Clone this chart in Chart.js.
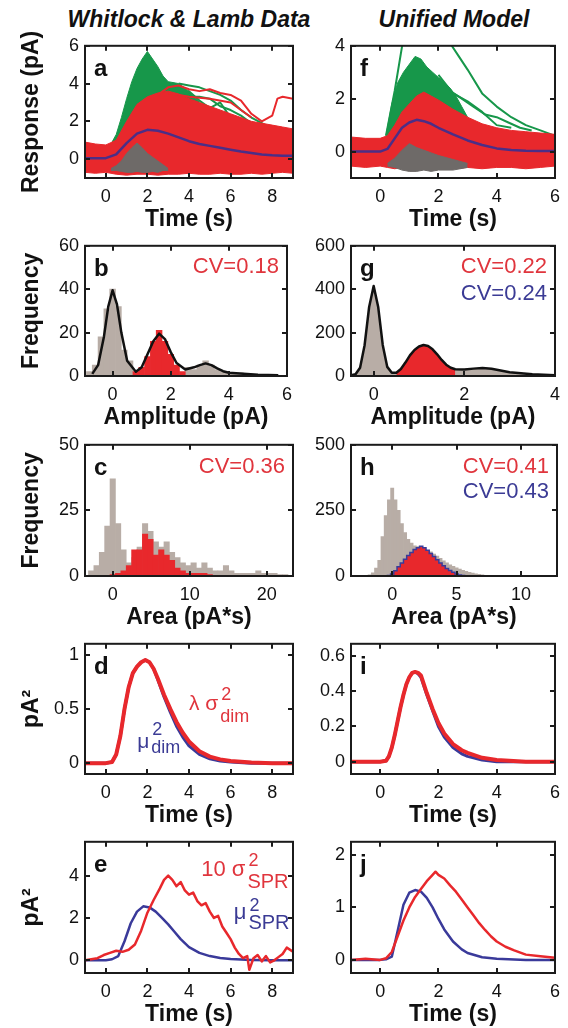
<!DOCTYPE html>
<html>
<head>
<meta charset="utf-8">
<script src="https://cdn.jsdelivr.net/npm/chart.js@4"></script>
<style>
  body { margin: 0; background: #fff; }
  #fig { position: relative; width: 568px; height: 1028px; overflow: hidden; }
  .col-title { position: absolute; top: 8px; width: 300px; text-align: center; white-space: nowrap;
    font: italic bold 23px "Liberation Sans", Arial, sans-serif; line-height: 23px; color: #111; }
  canvas { position: absolute; }
</style>
</head>
<body>
<div id="fig">
  <div class="col-title" style="left:39px">Whitlock &amp; Lamb Data</div>
  <div class="col-title" style="left:304px">Unified Model</div>
</div>
<script>
// ---- panel a : responses, Whitlock & Lamb data ----
let aT = [-1, -0.5, 0, 0.5, 1, 1.5, 2, 2.5, 3, 3.5, 4, 4.5, 5, 5.5, 6, 6.5, 7, 7.5, 8, 8.5, 9];
let aRedHi = [0.9, 0.8, 0.75, 1.0, 2.0, 2.9, 3.3, 3.5, 3.6, 3.45, 3.2, 3.0, 2.8, 2.6, 2.4, 2.2, 2.0, 1.9, 1.8, 1.7, 1.6];
let aRedLo = [-0.7, -0.75, -0.7, -0.8, -0.85, -0.8, -0.8, -0.85, -0.8, -0.8, -0.75, -0.8, -0.8, -0.75, -0.8, -0.8, -0.75, -0.8, -0.75, -0.7, -0.75];
let aMean = [0.05, 0.05, 0.05, 0.25, 0.85, 1.35, 1.55, 1.5, 1.35, 1.15, 0.95, 0.8, 0.7, 0.6, 0.5, 0.4, 0.32, 0.25, 0.2, 0.18, 0.18];
let aGreenT = [0.3, 0.5, 0.75, 1, 1.25, 1.5, 1.75, 2, 2.25, 2.5, 2.75, 3, 3.5, 4, 4.5];
let aGreenHi = [0.9, 1.3, 2.2, 3.2, 4.1, 4.8, 5.3, 5.7, 5.3, 4.9, 4.4, 4.1, 4.0, 3.6, 3.0];
let aG1T = [3.5, 4, 4.5, 5, 5.5, 6, 6.5, 7, 7.5, 8];
let aG1Y = [4.0, 3.9, 3.8, 3.6, 3.4, 3.1, 2.6, 2.2, 1.9, 1.6];
let aG2T = [3, 3.5, 4, 4.5, 5, 5.5, 6, 6.5, 7, 7.5, 8];
let aG2Y = [3.6, 3.4, 3.3, 3.3, 3.2, 2.8, 2.6, 2.3, 1.9, 1.6, 1.4];
let aG3T = [3.5, 4, 4.5, 5, 5.5, 6, 6.5, 7];
let aG3Y = [3.0, 3.6, 3.1, 2.7, 3.0, 2.2, 2.0, 1.6];
let aR1T = [2.5, 3, 3.5, 4, 4.5, 5, 5.5, 6, 6.5, 7, 7.5, 8, 8.25, 8.5, 9];
let aR1Y = [3.4, 3.8, 3.9, 3.7, 3.6, 3.7, 3.5, 3.4, 3.1, 2.4, 2.0, 2.3, 3.2, 3.3, 3.2];
let aR2T = [3, 4, 5, 6, 6.5, 7];
let aR2Y = [3.5, 3.3, 3.2, 3.0, 2.6, 2.2];
let aGrayT = [0.25, 0.5, 0.75, 1, 1.25, 1.5, 1.75, 2, 2.25, 2.5, 2.75, 3];
let aGrayHi = [-0.5, -0.35, -0.1, 0.3, 0.6, 0.85, 0.6, 0.3, 0.1, -0.1, -0.3, -0.5];
let aGrayLo = [-0.6, -0.6, -0.65, -0.7, -0.7, -0.65, -0.7, -0.7, -0.65, -0.7, -0.6, -0.6];

// ---- panel f : responses, unified model ----
let fT = [-1, -0.5, 0, 0.25, 0.5, 0.75, 1, 1.25, 1.5, 1.75, 2, 2.5, 3, 3.5, 4, 4.5, 5, 5.5, 6];
let fRedHi = [0.55, 0.5, 0.5, 0.6, 1.0, 1.5, 1.8, 2.1, 2.25, 2.1, 1.95, 1.6, 1.3, 1.05, 0.9, 0.8, 0.75, 0.7, 0.65];
let fRedLo = [-0.55, -0.6, -0.55, -0.6, -0.65, -0.6, -0.65, -0.7, -0.65, -0.7, -0.6, -0.65, -0.6, -0.65, -0.6, -0.6, -0.65, -0.6, -0.55];
let fMean = [0, 0, 0, 0.1, 0.5, 0.9, 1.1, 1.2, 1.15, 1.05, 0.9, 0.65, 0.42, 0.25, 0.12, 0.06, 0.03, 0.02, 0.02];
let fGreenT = [0.2, 0.4, 0.6, 0.8, 1, 1.2, 1.4, 1.6, 1.8, 2, 2.2, 2.4, 2.6, 2.8, 3.0];
let fGreenHi = [0.6, 1.8, 2.6, 3.0, 3.3, 3.6, 3.5, 3.2, 3.0, 2.8, 2.6, 2.4, 2.1, 1.7, 1.3];
let fG1T = [0.2, 0.5, 0.8, 1.1, 1.6, 2.1, 2.4, 2.7, 3, 3.5, 4, 4.5, 5, 5.5, 6];
let fG1Y = [0.6, 2.3, 4.3, 5.5, 5.8, 5.0, 4.1, 3.6, 3.1, 2.2, 1.7, 1.3, 1.0, 0.8, 0.6];
let fG2T = [2.4, 2.8, 3.2, 3.6, 4, 4.4, 4.8, 5.2];
let fG2Y = [2.3, 2.0, 1.7, 1.4, 1.3, 1.1, 0.9, 0.8];
let fG3T = [2, 2.5, 3, 3.5, 4, 4.5];
let fG3Y = [2.9, 2.2, 1.9, 1.5, 1.0, 0.9];
let fGrayT = [0.25, 0.5, 0.75, 1, 1.25, 1.5, 1.75, 2, 2.5, 3];
let fGrayHi = [-0.45, -0.25, 0.05, 0.3, 0.15, 0.05, -0.05, -0.15, -0.3, -0.45];
let fGrayLo = [-0.55, -0.6, -0.7, -0.75, -0.75, -0.7, -0.75, -0.7, -0.7, -0.6];

// ---- panel b : amplitude histogram, data ----
let bBins = [-0.8, -0.6, -0.4, -0.2, 0, 0.2, 0.4, 0.6, 0.8, 1.0, 1.2, 1.4, 1.6, 1.8, 2.0, 2.2, 2.4, 2.6, 2.8, 3.0, 3.2, 3.4, 3.6, 3.8, 4.0, 4.2, 4.4, 4.6, 4.8, 5.0];
let bGray = [2, 5, 18, 31, 40, 32, 12, 7, 0, 0, 0, 0, 0, 0, 0, 0, 0, 4, 3, 5, 7, 5, 3, 2, 1.5, 1, 1.5, 0.5, 0.5, 0];
let bRed = [0, 0, 0, 0, 0, 0, 0, 0, 2, 4, 9, 16, 21, 16, 10, 5, 2, 0, 0, 0, 0, 0, 0, 0, 0, 0, 0, 0, 0, 0];
let bFitX = [-0.7, -0.5, -0.3, -0.15, 0, 0.15, 0.3, 0.5, 0.8, 1.0, 1.2, 1.4, 1.6, 1.8, 2.0, 2.2, 2.5, 2.8, 3.0, 3.2, 3.4, 3.6, 3.8, 4.0, 4.5, 5.0, 5.7];
let bFitY = [1, 5, 18, 32, 39.5, 33, 20, 7, 2, 4, 10, 16, 19.5, 17, 11, 6, 3, 4, 5, 5.8, 5, 3.5, 2.2, 1.5, 1, 0.6, 0.4];

// ---- panel g : amplitude distribution, model ----
let gX = [-0.5, -0.4, -0.3, -0.2, -0.1, 0, 0.1, 0.2, 0.3, 0.4, 0.5, 0.6, 0.7, 0.8, 0.9, 1.0, 1.1, 1.2, 1.3, 1.4, 1.5, 1.6, 1.7, 1.8, 2.0, 2.2, 2.4, 2.6, 2.8, 3.0, 3.5, 4.0];
let gY = [3, 8, 38, 142, 318, 415, 318, 143, 42, 15, 15, 32, 62, 95, 120, 136, 143, 138, 123, 100, 74, 52, 38, 31, 30, 34, 37, 33, 25, 17, 8, 4];

// ---- panel c : area histogram, data ----
let cBins = [-2.8, -2.1, -1.4, -0.7, 0, 0.7, 1.4, 2.1, 2.8, 3.5, 4.2, 4.9, 5.6, 6.3, 7.0, 7.7, 8.4, 9.1, 9.8, 10.5, 11.2, 11.9, 12.6, 13.3, 14.0, 14.7, 15.4, 16.1, 16.8, 17.5, 18.2, 18.9, 19.6, 20.3, 21.0, 21.7, 22.4];
let cGray = [2, 4, 9, 19, 37, 20, 10, 5, 7, 11, 20, 17, 13, 11, 13, 9, 7, 5, 4, 5, 3, 5, 3, 2, 2, 4, 2, 1, 1, 1, 1, 2, 1, 1, 1, 0.5, 0.5];
let cRed = [0, 0, 0, 0, 0.5, 1, 2, 4, 10, 10, 16, 14, 8, 10, 8, 6, 3, 2, 1, 1, 1, 1, 0.5, 0, 0, 0, 0, 0, 0, 0, 0, 0, 0, 0, 0, 0, 0];

// ---- panel h : area distribution, model ----
let hBins = [-2, -1.75, -1.5, -1.25, -1, -0.75, -0.5, -0.25, 0, 0.25, 0.5, 0.75, 1, 1.25, 1.5, 1.75, 2, 2.25, 2.5, 2.75, 3, 3.25, 3.5, 3.75, 4, 4.25, 4.5, 4.75, 5, 5.25, 5.5, 5.75, 6, 6.25, 6.5, 6.75, 7, 7.25, 7.5, 7.75, 8];
let hGray = [2, 4, 12, 30, 60, 150, 230, 290, 335, 290, 250, 200, 165, 140, 125, 115, 112, 110, 105, 98, 92, 84, 76, 67, 58, 50, 43, 37, 31, 26, 22, 18, 14, 11, 8, 6, 4, 3, 2, 1, 1];
let hRedX = [-0.5, -0.25, 0, 0.25, 0.5, 0.75, 1, 1.25, 1.5, 1.75, 2, 2.25, 2.5, 2.75, 3, 3.25, 3.5, 3.75, 4, 4.25, 4.5, 4.75, 5, 5.25, 5.5, 5.75, 6];
let hRedY = [0, 2, 8, 20, 35, 50, 64, 78, 90, 101, 108, 113, 108, 98, 86, 74, 62, 50, 39, 29, 21, 14, 8, 4, 2, 1, 0];

// ---- panel d : dim flash variance vs squared mean, data ----
let dT = [-1, 0, 0.3, 0.5, 0.7, 0.9, 1.1, 1.3, 1.5, 1.7, 1.9, 2.1, 2.3, 2.5, 2.8, 3.1, 3.4, 3.7, 4, 4.5, 5, 5.5, 6, 7, 8, 9];
let dRed = [0, 0, 0.01, 0.08, 0.25, 0.5, 0.7, 0.83, 0.89, 0.93, 0.95, 0.93, 0.87, 0.78, 0.63, 0.5, 0.38, 0.28, 0.2, 0.11, 0.06, 0.035, 0.02, 0.005, 0, 0];
let dBlue = [0, 0, 0.01, 0.08, 0.25, 0.5, 0.7, 0.83, 0.89, 0.93, 0.95, 0.93, 0.87, 0.77, 0.61, 0.47, 0.34, 0.24, 0.16, 0.08, 0.04, 0.02, 0.01, 0, 0, 0];

// ---- panel i : dim flash variance vs squared mean, model ----
let iT = [-1, 0, 0.2, 0.3, 0.4, 0.5, 0.6, 0.7, 0.8, 0.9, 1.0, 1.1, 1.2, 1.3, 1.4, 1.6, 1.8, 2.0, 2.2, 2.5, 2.8, 3.0, 3.5, 4, 5, 6];
let iRed = [0, 0, 0.005, 0.03, 0.08, 0.15, 0.23, 0.31, 0.38, 0.44, 0.48, 0.505, 0.51, 0.505, 0.49, 0.39, 0.3, 0.22, 0.16, 0.1, 0.065, 0.05, 0.022, 0.01, 0, 0];
let iBlue = [0, 0, 0.005, 0.03, 0.08, 0.15, 0.23, 0.31, 0.38, 0.44, 0.48, 0.505, 0.51, 0.5, 0.48, 0.38, 0.29, 0.2, 0.14, 0.08, 0.045, 0.03, 0.01, 0, 0, 0];

// ---- panel e : single photon response, data ----
let eBlueT = [-1, 0, 0.3, 0.6, 0.9, 1.2, 1.5, 1.8, 2.1, 2.4, 2.7, 3, 3.3, 3.6, 4, 4.5, 5, 5.5, 6, 7, 8, 9];
let eBlue = [0, 0, 0.05, 0.2, 0.9, 1.75, 2.3, 2.55, 2.5, 2.3, 2.0, 1.7, 1.35, 1.0, 0.62, 0.35, 0.2, 0.11, 0.06, 0.02, 0, 0];
let eRedT = [-1, -0.7, -0.4, -0.1, 0.2, 0.5, 0.8, 1.1, 1.4, 1.7, 2, 2.3, 2.6, 2.8, 3, 3.2, 3.4, 3.6, 3.8, 4, 4.2, 4.4, 4.6, 4.8, 5, 5.2, 5.4, 5.6, 5.8, 6, 6.2, 6.4, 6.6, 6.8, 6.9, 7.1, 7.3, 7.5, 7.7, 7.9, 8.1, 8.3, 8.5, 8.7, 9];
let eRed = [0, 0.05, 0.1, 0.25, 0.35, 0.45, 0.4, 0.5, 0.75, 1.4, 2.25, 2.85, 3.4, 3.8, 4.0, 3.8, 3.5, 3.7, 3.3, 3.1, 3.2, 2.8, 2.6, 2.7, 2.3, 2.0, 2.1, 1.6, 1.3, 1.0, 0.6, 0.3, 0.1, 0.2, -0.45, 0.1, 0.25, -0.05, 0.2, -0.1, 0.0, 0.15, 0.3, 0.6, 0.4];

// ---- panel j : single photon response, model ----
let jBlueT = [-1, 0, 0.2, 0.4, 0.6, 0.8, 1.0, 1.2, 1.4, 1.6, 1.8, 2.0, 2.2, 2.5, 2.8, 3.0, 3.5, 4, 5, 6];
let jBlue = [0, 0, 0.01, 0.06, 0.55, 1.05, 1.28, 1.33, 1.3, 1.18, 1.0, 0.78, 0.58, 0.35, 0.2, 0.13, 0.05, 0.02, 0, 0];
let jRedT = [-1, -0.5, 0, 0.2, 0.4, 0.6, 0.8, 1.0, 1.2, 1.4, 1.6, 1.8, 1.9, 2.0, 2.2, 2.4, 2.6, 2.8, 3.0, 3.2, 3.4, 3.6, 3.8, 4.0, 4.3, 4.6, 5.0, 5.5, 6];
let jRed = [0, 0.02, 0, 0.03, 0.15, 0.45, 0.75, 1.0, 1.2, 1.35, 1.5, 1.62, 1.68, 1.62, 1.55, 1.42, 1.3, 1.15, 1.0, 0.85, 0.7, 0.57, 0.45, 0.35, 0.25, 0.18, 0.1, 0.07, 0.04];

// colours
const RED = "#e8282c", GREEN = "#17974a", GRAY = "#6e6a68", HGRAY = "#b8ada6";
const PURPLE = "#4b2e87", BLUE = "#3a3a9a", BLACK = "#111111";
const RED_TXT = "#e0353d", BLUE_TXT = "#3b3b95";
const FONT = "Liberation Sans";

Chart.defaults.font.family = FONT;
Chart.defaults.color = BLACK;
Chart.defaults.animation = false;
Chart.defaults.plugins.legend.display = false;
Chart.defaults.plugins.tooltip.enabled = false;
Chart.defaults.elements.point.radius = 0;
Chart.defaults.elements.point.hoverRadius = 0;

//helpers that turn the arrays above into datasets
function pts(xs, ys) {
  return xs.map((x, i) => ({ x: x, y: ys[i] }));
}
function line(xs, ys, color, w) {
  return { data: pts(xs, ys), borderColor: color, borderWidth: w, fill: false, borderJoinStyle: "round" };
}
function band(xs, hi, lo, color) {
  return [
    { data: pts(xs, hi), borderColor: color, borderWidth: 1, backgroundColor: color, fill: "+1" },
    { data: pts(xs, lo), borderColor: color, borderWidth: 1, fill: false }
  ];
}
function bars(xs, ys, color) {
  return { type: "bar", data: pts(xs, ys), backgroundColor: color, borderWidth: 0,
    barPercentage: 1, categoryPercentage: 1, grouped: false };
}
function area(data, color) {
  return { data: data, borderColor: "rgba(0,0,0,0)", borderWidth: 1, backgroundColor: color, fill: "origin" };
}

//frame, inward ticks, panel letter and text labels
const framePlugin = {
  id: "frame",
  afterDatasetsDraw(chart, args, opts) {
    const ctx = chart.ctx;
    const a = chart.chartArea;
    const x = chart.scales.x, y = chart.scales.y;
    ctx.save();
    ctx.strokeStyle = "#1b1b1b";
    ctx.lineWidth = 2;
    ctx.strokeRect(a.left, a.top, a.right - a.left, a.bottom - a.top);
    ctx.beginPath();
    x.ticks.forEach(t => {
      const px = Math.round(x.getPixelForValue(t.value));
      ctx.moveTo(px, a.bottom); ctx.lineTo(px, a.bottom - 5);
      ctx.moveTo(px, a.top); ctx.lineTo(px, a.top + 5);
    });
    y.ticks.forEach(t => {
      const py = Math.round(y.getPixelForValue(t.value));
      ctx.moveTo(a.left, py); ctx.lineTo(a.left + 5, py);
      ctx.moveTo(a.right, py); ctx.lineTo(a.right - 5, py);
    });
    ctx.stroke();

    ctx.textBaseline = "alphabetic";
    ctx.fillStyle = BLACK;
    ctx.font = "bold 24px " + FONT;
    ctx.textAlign = "left";
    ctx.fillText(opts.letter, a.left + 9, a.top + 30);

    (opts.cv || []).forEach(c => {
      ctx.font = "22px " + FONT;
      ctx.fillStyle = c.color;
      ctx.textAlign = "right";
      ctx.fillText(c.text, a.right - 8, a.top + c.dy);
    });

    (opts.math || []).forEach(m => {
      const px = x.getPixelForValue(m.x), py = y.getPixelForValue(m.y);
      ctx.textAlign = "left";
      ctx.fillStyle = m.color;
      ctx.font = m.size + "px " + FONT;
      ctx.fillText(m.main, px, py);
      const w = ctx.measureText(m.main).width;
      ctx.font = m.supSize + "px " + FONT;
      ctx.fillText(m.sup, px + w + 3, py + m.supDy);
      ctx.font = m.subSize + "px " + FONT;
      ctx.fillText(m.sub, px + w + 2, py + m.subDy);
    });
    ctx.restore();
  }
};

const rowTop = [43, 243, 442, 641, 839];
const rowBottom = [178, 376, 576, 774, 973];
const colGeo = [
  { canvasLeft: 0, canvasWidth: 300, plotLeft: 85, plotRight: 293 },
  { canvasLeft: 300, canvasWidth: 268, plotLeft: 351, plotRight: 557 }
];

function makePanel(col, row, p) {
  const g = colGeo[col];
  const top = rowTop[row] - 14;
  const h = rowBottom[row] - rowTop[row] + 14 + 60;
  const cv = document.createElement("canvas");
  cv.width = g.canvasWidth;
  cv.height = h;
  cv.style.left = g.canvasLeft + "px";
  cv.style.top = top + "px";
  document.getElementById("fig").appendChild(cv);

  new Chart(cv.getContext("2d"), {
    type: "line",
    data: { datasets: p.datasets },
    plugins: [framePlugin],
    options: {
      responsive: false,
      devicePixelRatio: 1,
      events: [],
      layout: { padding: { top: 14, bottom: 0, left: 0, right: g.canvasLeft + g.canvasWidth - g.plotRight } },
      plugins: { frame: { letter: p.letter, cv: p.cv, math: p.math } },
      scales: {
        x: {
          type: "linear", min: p.xr[0], max: p.xr[1], offset: false,
          grid: { display: false, drawTicks: false }, border: { display: false },
          ticks: { font: { size: 18 }, color: BLACK, padding: 8, maxRotation: 0, autoSkip: false, callback: v => String(v) },
          afterBuildTicks: s => { s.ticks = p.xt.map(v => ({ value: v })); },
          afterFit: s => { s.height = 60; },
          title: { display: true, text: p.xl, color: BLACK, font: { size: 23, weight: "bold" }, padding: { top: 0, bottom: 5 } }
        },
        y: {
          type: "linear", min: p.yr[0], max: p.yr[1],
          grid: { display: false, drawTicks: false }, border: { display: false },
          ticks: { font: { size: 18 }, color: BLACK, padding: 6, autoSkip: false, callback: v => String(v) },
          afterBuildTicks: s => { s.ticks = p.yt.map(v => ({ value: v })); },
          afterFit: s => { s.width = g.plotLeft - g.canvasLeft; },
          title: { display: !!p.yl, text: p.yl || "", color: BLACK, font: { size: 23, weight: "bold" }, padding: { top: 18, bottom: 0 } }
        }
      }
    }
  });
}

// datasets are listed top first: Chart.js paints the first dataset last
makePanel(0, 0, {
  letter: "a", xr: [-1, 9], xt: [0, 2, 4, 6, 8], yr: [-1, 6], yt: [0, 2, 4, 6],
  xl: "Time (s)", yl: "Response (pA)",
  datasets: [
    line(aT, aMean, PURPLE, 2.5),
    ...band(aGrayT, aGrayHi, aGrayLo, GRAY),
    line(aR1T, aR1Y, RED, 2),
    line(aR2T, aR2Y, RED, 2),
    ...band(aT, aRedHi, aRedLo, RED),
    line(aG1T, aG1Y, GREEN, 2),
    line(aG2T, aG2Y, GREEN, 2),
    line(aG3T, aG3Y, GREEN, 2),
    { data: pts(aGreenT, aGreenHi), borderColor: GREEN, borderWidth: 1, backgroundColor: GREEN, fill: { value: 0 } }
  ]
});

makePanel(1, 0, {
  letter: "f", xr: [-1, 6], xt: [0, 2, 4, 6], yr: [-1, 4], yt: [0, 2, 4],
  xl: "Time (s)",
  datasets: [
    line(fT, fMean, PURPLE, 2.5),
    ...band(fGrayT, fGrayHi, fGrayLo, GRAY),
    ...band(fT, fRedHi, fRedLo, RED),
    line(fG1T, fG1Y, GREEN, 2),
    line(fG2T, fG2Y, GREEN, 2),
    line(fG3T, fG3Y, GREEN, 2),
    { data: pts(fGreenT, fGreenHi), borderColor: GREEN, borderWidth: 1, backgroundColor: GREEN, fill: { value: 0 } }
  ]
});

makePanel(0, 1, {
  letter: "b", xr: [-0.95, 6], xt: [0, 2, 4, 6], yr: [0, 60], yt: [0, 20, 40, 60],
  xl: "Amplitude (pA)", yl: "Frequency",
  cv: [{ text: "CV=0.18", color: RED_TXT, dy: 27 }],
  datasets: [
    line(bFitX, bFitY, BLACK, 2.5),
    bars(bBins, bRed, RED),
    bars(bBins, bGray, HGRAY)
  ]
});

makePanel(1, 1, {
  letter: "g", xr: [-0.5, 4], xt: [0, 2, 4], yr: [0, 600], yt: [0, 200, 400, 600],
  xl: "Amplitude (pA)",
  cv: [{ text: "CV=0.22", color: RED_TXT, dy: 27 }, { text: "CV=0.24", color: BLUE_TXT, dy: 54 }],
  datasets: [
    line(gX, gY, BLACK, 2.5),
    area(pts(gX, gY).filter(q => q.x >= 0.5 && q.x <= 1.8), RED),
    area(pts(gX, gY), HGRAY)
  ]
});

makePanel(0, 2, {
  letter: "c", xr: [-3.6, 23.4], xt: [0, 10, 20], yr: [0, 50], yt: [0, 25, 50],
  xl: "Area (pA*s)", yl: "Frequency",
  cv: [{ text: "CV=0.36", color: RED_TXT, dy: 28 }],
  datasets: [
    bars(cBins, cRed, RED),
    bars(cBins, cGray, HGRAY)
  ]
});

makePanel(1, 2, {
  letter: "h", xr: [-3.2, 12.8], xt: [0, 5, 10], yr: [0, 500], yt: [0, 250, 500],
  xl: "Area (pA*s)",
  cv: [{ text: "CV=0.41", color: RED_TXT, dy: 28 }, { text: "CV=0.43", color: BLUE_TXT, dy: 53 }],
  datasets: [
    { data: pts(hRedX, hRedY), stepped: "middle", borderColor: BLUE, borderWidth: 1.5, backgroundColor: RED, fill: "origin" },
    bars(hBins, hGray, HGRAY)
  ]
});

makePanel(0, 3, {
  letter: "d", xr: [-1, 9], xt: [0, 2, 4, 6, 8], yr: [-0.1, 1.1], yt: [0, 0.5, 1],
  xl: "Time (s)", yl: "pA\u00b2",
  math: [
    { x: 4.0, y: 0.49, main: "\u03bb \u03c3", sup: "2", sub: "dim", color: RED_TXT, size: 21, supSize: 18, subSize: 18, supDy: -10, subDy: 12 },
    { x: 1.51, y: 0.143, main: "\u03bc", sup: "2", sub: "dim", color: BLUE_TXT, size: 21, supSize: 18, subSize: 18, supDy: -13, subDy: 5 }
  ],
  datasets: [
    line(dT, dRed, RED, 4),
    line(dT, dBlue, BLUE, 3)
  ]
});

makePanel(1, 3, {
  letter: "i", xr: [-1, 6], xt: [0, 2, 4, 6], yr: [-0.07, 0.67], yt: [0, 0.2, 0.4, 0.6],
  xl: "Time (s)",
  datasets: [
    line(iT, iRed, RED, 4),
    line(iT, iBlue, BLUE, 3)
  ]
});

makePanel(0, 4, {
  letter: "e", xr: [-1, 9], xt: [0, 2, 4, 6, 8], yr: [-0.6, 5.6], yt: [0, 2, 4],
  xl: "Time (s)", yl: "pA\u00b2",
  math: [
    { x: 4.59, y: 4.0, main: "10 \u03c3", sup: "2", sub: "SPR", color: RED_TXT, size: 22, supSize: 18, subSize: 20, supDy: -10, subDy: 12 },
    { x: 6.15, y: 1.94, main: "\u03bc", sup: "2", sub: "SPR", color: BLUE_TXT, size: 22, supSize: 18, subSize: 20, supDy: -8, subDy: 10 }
  ],
  datasets: [
    line(eRedT, eRed, RED, 2.5),
    line(eBlueT, eBlue, BLUE, 2.5)
  ]
});

makePanel(1, 4, {
  letter: "j", xr: [-1, 6], xt: [0, 2, 4, 6], yr: [-0.25, 2.25], yt: [0, 1, 2],
  xl: "Time (s)",
  datasets: [
    line(jRedT, jRed, RED, 2.5),
    line(jBlueT, jBlue, BLUE, 2.5)
  ]
});
</script>
</body>
</html>
